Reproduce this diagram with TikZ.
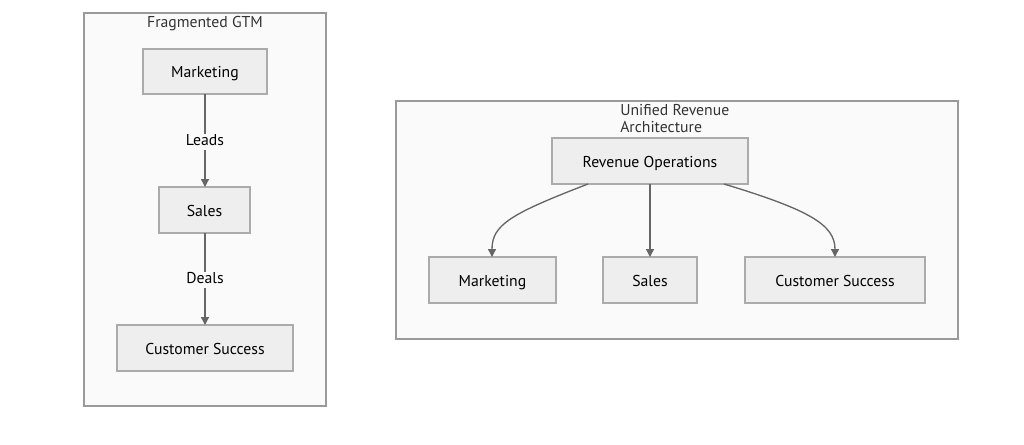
\documentclass[tikz,border=0pt]{standalone}
\usepackage{fontspec}
\setmainfont{PT Sans}
\usetikzlibrary{arrows.meta}
\definecolor{clfill}{HTML}{FAFAFA}
\definecolor{clline}{HTML}{9A9A9A}
\definecolor{ndfill}{HTML}{EEEEEE}
\definecolor{ndline}{HTML}{ABABAB}
\definecolor{edge}{HTML}{666666}
\definecolor{ttl}{HTML}{333333}
\tikzset{
  cluster/.style={draw=clline, fill=clfill, line width=0.9pt},
  box/.style={draw=ndline, fill=ndfill, line width=0.9pt},
  btext/.style={text=black, font=\fontsize{11.8pt}{14pt}\selectfont, inner sep=0pt, text height=0.72em, text depth=0.22em},
  conn/.style={draw=edge, line width=1pt, -{Triangle[length=6pt,width=6pt]}},
  elabel/.style={fill=clfill, inner sep=1.5pt, font=\fontsize{11.8pt}{14pt}\selectfont, text=black, text height=0.72em, text depth=0.22em},
  ctitle/.style={font=\fontsize{11.8pt}{12.6pt}\selectfont, text=ttl, inner sep=0pt}
}
\begin{document}
\begin{tikzpicture}[x=0.75pt,y=-0.75pt]
\useasboundingbox (0,0) rectangle (1024,444);
% left cluster
\draw[cluster] (84,13) rectangle (326,406);
\node[ctitle] (t1) at (205,24) {Fragmented GTM};
\path[box] (143,49) rectangle (267,94);
\node[btext] (m1) at (205,74.5) {Marketing};
\coordinate (m1b) at (205,94);
\path[box] (159,187) rectangle (250,233);
\node[btext] (s1) at (204.5,213) {Sales};
\coordinate (s1t) at (205,187);
\coordinate (s1b) at (205,233);
\path[box] (117,325) rectangle (293,371);
\node[btext] (c1) at (205,351) {Customer Success};
\coordinate (c1t) at (205,325);
\draw[conn] (m1b) -- (s1t);
\draw[conn] (s1b) -- (c1t);
\node[elabel] (l1) at (205,142) {Leads};
\node[elabel] (l2) at (205,280) {Deals};
% right cluster
\draw[cluster] (396,101) rectangle (958,339);
\node[ctitle, align=left, anchor=north west] (t2) at (620,104.5) {Unified Revenue\\Architecture};
\path[box] (552,138) rectangle (748,184);
\node[btext] (r) at (650,164) {Revenue Operations};
\path[box] (429,257) rectangle (556,303);
\node[btext] (m2) at (492.5,283) {Marketing};
\path[box] (603,257) rectangle (697,303);
\node[btext] (s2) at (650,283) {Sales};
\path[box] (745,257) rectangle (925,303);
\node[btext] (c2) at (835,283) {Customer Success};
\coordinate (rb1) at (588,184);
\coordinate (rb2) at (650,184);
\coordinate (rb3) at (724,184);
\coordinate (m2t) at (492,257);
\coordinate (s2t) at (650,257);
\coordinate (c2t) at (835,257);
\draw[conn] (rb1) .. controls (510,214) and (492,225) .. (m2t);
\draw[conn] (rb2) -- (s2t);
\draw[conn] (rb3) .. controls (810,210) and (835,225) .. (c2t);
\end{tikzpicture}
\end{document}
